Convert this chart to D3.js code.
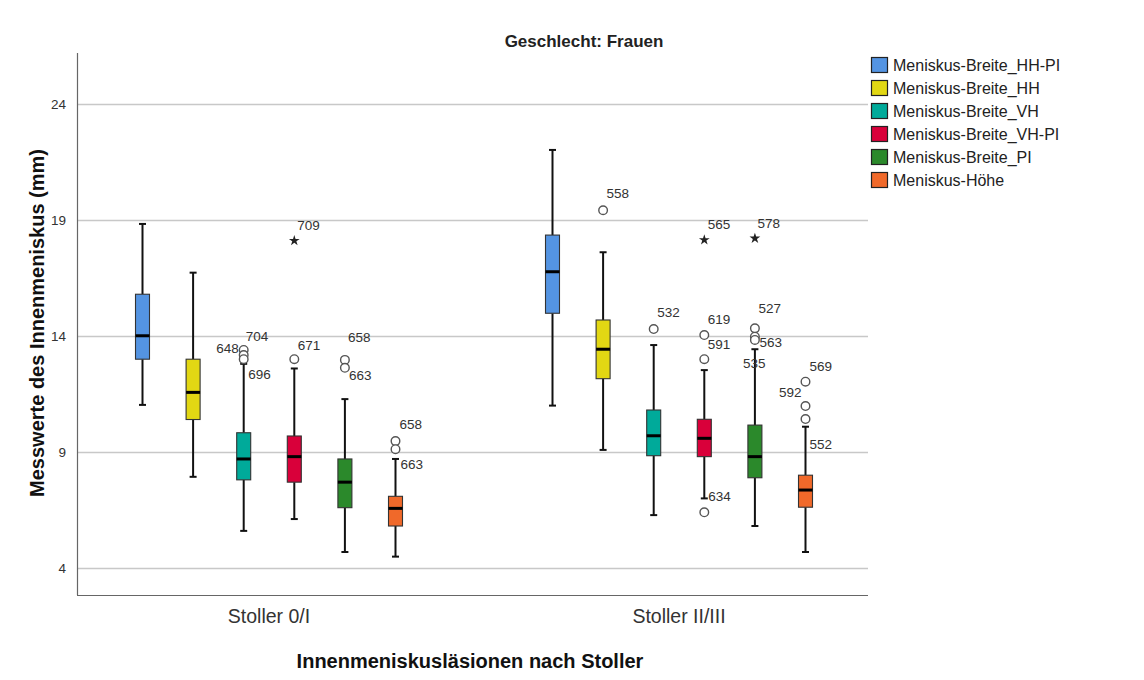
<!DOCTYPE html>
<html>
<head>
<meta charset="utf-8">
<script src="https://cdn.jsdelivr.net/npm/d3@7"></script>
<style>
  body { margin: 0; background: #fff; }
  svg { display: block; font-family: "Liberation Sans", Arial, sans-serif; }
</style>
</head>
<body>
<svg id="chart" width="1144" height="680"></svg>
<script>
// ---------- data ----------
const categories = ["Stoller 0/I", "Stoller II/III"];
const seriesNames = ["Meniskus-Breite_HH-PI", "Meniskus-Breite_HH", "Meniskus-Breite_VH", "Meniskus-Breite_VH-PI", "Meniskus-Breite_PI", "Meniskus-Höhe"];
const seriesColors = ["#5494E2", "#E2D713", "#00AA9A", "#D9003A", "#2B892B", "#F0692A"];
const yTicks = [4, 9, 14, 19, 24];

// [lower whisker, Q1, median, Q3, upper whisker] per series
const statsStoller0I = [
  [11.03, 13.0, 14.01, 15.8, 18.83],
  [7.93, 10.4, 11.57, 13.0, 16.73],
  [5.6, 7.8, 8.7, 9.83, 12.8],
  [6.11, 7.7, 8.8, 9.69, 12.6],
  [4.69, 6.6, 7.7, 8.7, 11.28],
  [4.49, 5.81, 6.57, 7.09, 8.7]
];
const statsStollerIIIII = [
  [11.0, 14.98, 16.77, 18.35, 22.02],
  [9.09, 12.16, 13.43, 14.69, 17.61],
  [6.28, 8.84, 9.7, 10.81, 13.61],
  [7.0, 8.8, 9.59, 10.41, 12.53],
  [5.81, 7.89, 8.8, 10.16, 13.43],
  [4.69, 6.62, 7.36, 8.0, 10.09]
];

// outliers: [category index, series index, value, case label, kind ("o" circle, "*" extreme)]
const outliers = [
  [0, 2, 13.40, "704", "o"],
  [0, 2, 13.18, "648", "o"],
  [0, 2, 13.00, "696", "o"],
  [0, 3, 18.11, "709", "*"],
  [0, 3, 13.00, "671", "o"],
  [0, 4, 12.97, "658", "o"],
  [0, 4, 12.63, "663", "o"],
  [0, 5, 9.47, "658", "o"],
  [0, 5, 9.12, "663", "o"],
  [1, 1, 19.42, "558", "o"],
  [1, 2, 14.30, "532", "o"],
  [1, 3, 18.14, "565", "*"],
  [1, 3, 14.04, "619", "o"],
  [1, 3, 13.00, "591", "o"],
  [1, 3, 6.40, "634", "o"],
  [1, 4, 18.21, "578", "*"],
  [1, 4, 14.33, "527", "o"],
  [1, 4, 13.97, "563", "o"],
  [1, 4, 13.83, "535", "o"],
  [1, 5, 12.03, "569", "o"],
  [1, 5, 10.98, "592", "o"],
  [1, 5, 10.42, "552", "o"]
];
// label nudges (px) relative to each outlier mark, same order: [dx, dy, anchor]
const labelNudge = [
  [2, -13.5, "start"], [-5, -6.5, "end"], [4.5, 15, "start"],
  [3, -15.5, "start"], [3.5, -13.5, "start"],
  [3, -22, "start"], [4, 8, "start"],
  [4, -16.5, "start"], [5, 15, "start"],
  [3.5, -17, "start"], [3.5, -16.5, "start"],
  [3.5, -15, "start"], [3.5, -15.5, "start"], [3.5, -15, "start"], [4, -15.5, "start"],
  [2.5, -14.5, "start"], [3.5, -19.5, "start"], [4.5, 6, "start"], [-12, 23.5, "start"],
  [4, -15, "start"], [-4, -13.5, "end"], [4, 25, "start"]
];

const statsByCategory = [statsStoller0I, statsStollerIIIII];

// ---------- layout ----------
const svg = d3.select("#chart");
const plot = { left: 77, right: 868, top: 53, bottom: 595 };

const y = d3.scaleLinear().domain([4, 24]).range([568, 104]);
const x = d3.scaleBand().domain(categories).range([64, 884]).padding(0);
const xs = d3.scaleBand().domain(seriesNames).range([-151.8, 151.8]).padding(0);
const boxW = 14, capW = 7;
const cx = (ci, si) => x(categories[ci]) + x.bandwidth() / 2 + xs(seriesNames[si]) + xs.bandwidth() / 2;

// gridlines
svg.append("g").selectAll("line").data(yTicks).join("line")
  .attr("x1", plot.left + 1).attr("x2", plot.right)
  .attr("y1", d => Math.round(y(d)) + 0.5).attr("y2", d => Math.round(y(d)) + 0.5)
  .attr("stroke", "#c8c8c8").attr("stroke-width", 1.3);

// y axis
const yAxis = svg.append("g").attr("transform", `translate(${plot.left},0)`)
  .call(d3.axisLeft(y).tickValues(yTicks).tickSize(0).tickPadding(11).tickFormat(d3.format("d")));
yAxis.select(".domain").remove();
yAxis.selectAll("text").attr("font-size", 13.5).attr("fill", "#333").attr("font-family", "Liberation Sans, Arial, sans-serif");

// x axis
const xAxis = svg.append("g").attr("transform", `translate(0,${plot.bottom})`)
  .call(d3.axisBottom(x).tickSize(0).tickPadding(14));
xAxis.select(".domain").remove();
xAxis.selectAll("text").attr("font-size", 19.5).attr("fill", "#333").attr("font-family", "Liberation Sans, Arial, sans-serif");

// frame lines
svg.append("line").attr("x1", plot.left + 0.5).attr("x2", plot.left + 0.5)
  .attr("y1", plot.top).attr("y2", plot.bottom).attr("stroke", "#666").attr("stroke-width", 1.2);
svg.append("line").attr("x1", plot.left).attr("x2", plot.right)
  .attr("y1", plot.bottom + 0.5).attr("y2", plot.bottom + 0.5).attr("stroke", "#666").attr("stroke-width", 1.2);

// boxes
const boxes = [];
statsByCategory.forEach((arr, ci) => arr.forEach((s, si) => boxes.push({ ci, si, s })));

const gBox = svg.append("g");
boxes.forEach(b => {
  const c = cx(b.ci, b.si);
  const [lo, q1, med, q3, hi] = b.s;
  const g = gBox.append("g");
  g.append("line").attr("x1", c).attr("x2", c).attr("y1", y(hi)).attr("y2", y(q3))
    .attr("stroke", "#111").attr("stroke-width", 2);
  g.append("line").attr("x1", c).attr("x2", c).attr("y1", y(q1)).attr("y2", y(lo))
    .attr("stroke", "#111").attr("stroke-width", 2);
  [hi, lo].forEach(v => g.append("line")
    .attr("x1", c - capW / 2).attr("x2", c + capW / 2).attr("y1", y(v)).attr("y2", y(v))
    .attr("stroke", "#111").attr("stroke-width", 2));
  g.append("rect").attr("x", c - boxW / 2).attr("y", y(q3))
    .attr("width", boxW).attr("height", y(q1) - y(q3))
    .attr("fill", seriesColors[b.si]).attr("stroke", "#333").attr("stroke-width", 1.1);
  g.append("line").attr("x1", c - boxW / 2).attr("x2", c + boxW / 2)
    .attr("y1", y(med)).attr("y2", y(med)).attr("stroke", "#000").attr("stroke-width", 3);
});

// outliers
const gOut = svg.append("g");
const star = d3.symbol().type(d3.symbolStar).size(36);
outliers.forEach((o, i) => {
  const [ci, si, v, lab, kind] = o;
  const px = cx(ci, si), py = y(v);
  if (kind === "*") {
    gOut.append("path").attr("d", star()).attr("transform", `translate(${px},${py})`).attr("fill", "#222");
  } else {
    gOut.append("circle").attr("cx", px).attr("cy", py).attr("r", 4.3)
      .attr("fill", "#fff").attr("stroke", "#555").attr("stroke-width", 1.4);
  }
  const [dx, dy, anchor] = labelNudge[i];
  gOut.append("text").attr("x", px + dx).attr("y", py + dy)
    .attr("dominant-baseline", "central").attr("text-anchor", anchor)
    .attr("font-size", 13.5).attr("fill", "#333").text(lab);
});

// titles
svg.append("text").attr("x", 584).attr("y", 41).attr("text-anchor", "middle")
  .attr("dominant-baseline", "central").attr("font-size", 17).attr("font-weight", "bold")
  .attr("fill", "#222").text("Geschlecht: Frauen");
svg.append("text").attr("x", 470).attr("y", 661).attr("text-anchor", "middle")
  .attr("dominant-baseline", "central").attr("font-size", 20).attr("font-weight", "bold")
  .attr("fill", "#111").text("Innenmeniskusläsionen nach Stoller");
svg.append("text").attr("transform", "translate(37,323) rotate(-90)").attr("text-anchor", "middle")
  .attr("dominant-baseline", "central").attr("font-size", 20).attr("font-weight", "bold")
  .attr("fill", "#111").text("Messwerte des Innenmeniskus (mm)");

// legend
const legend = svg.append("g").attr("transform", "translate(871,57)");
seriesNames.forEach((name, i) => {
  const row = legend.append("g").attr("transform", `translate(0,${i * 23})`);
  row.append("rect").attr("x", 0.5).attr("y", 0.5).attr("width", 16).attr("height", 15)
    .attr("fill", seriesColors[i]).attr("stroke", "#222").attr("stroke-width", 1.2);
  row.append("text").attr("x", 22).attr("y", 8.5).attr("dominant-baseline", "central")
    .attr("font-size", 16).attr("fill", "#222").text(name);
});
</script>
</body>
</html>
